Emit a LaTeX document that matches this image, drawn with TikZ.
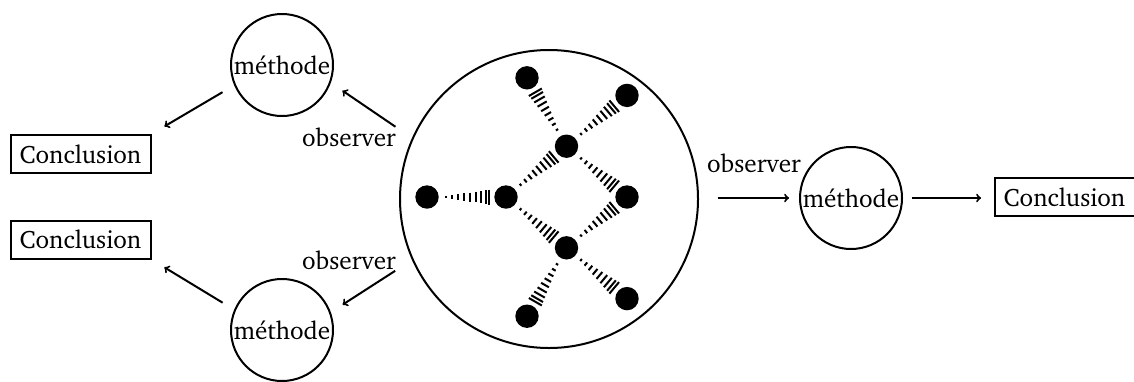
\documentclass[tikz,border=0pt]{standalone}
\usepackage[T1]{fontenc}
\usepackage{charter}
\usetikzlibrary{calc}
\newcommand\hashbond[2]{%
  \foreach \dd/\hh in {19/1.3, 25.3/2.1, 31.3/2.9, 37.3/3.7, 43/4.5, 48.7/5.3, 54/6.1, 58.7/6.8, 62.3/7.5}{%
    \path ($(#1.center)!\dd pt!(#2.center)$) coordinate (hbm);
    \draw[hashline] ($(hbm)!\hh pt!90:(#2.center)$) -- ($(hbm)!\hh pt!-90:(#2.center)$);
  }%
}
\begin{document}
\begin{tikzpicture}[x=1pt,y=-1pt, line width=2pt,
  font=\fontsize{25.2}{30}\selectfont,
  meth/.style={draw, circle, inner sep=0pt, minimum size=102pt},
  concl/.style={draw, rectangle, minimum width=140pt, minimum height=38pt, inner sep=0pt},
  arr/.style={->},
  atom/.style={circle, fill=black, inner sep=0pt, minimum size=23.4pt},
  hashline/.style={line width=2pt}]
\useasboundingbox (0,0) rectangle (1134,381);

% molecule container
\node[draw, circle, minimum size=298pt, inner sep=0pt] (mol) at (549,199) {};

% atoms
\node[atom] (D) at (427,197) {};
\node[atom] (E) at (506,197) {};
\node[atom] (C) at (566.5,146.2) {};
\node[atom] (G) at (566.5,247.8) {};
\node[atom] (A) at (527,77.8) {};
\node[atom] (B) at (627,95.4) {};
\node[atom] (F) at (627,197) {};
\node[atom] (H) at (527,316.2) {};
\node[atom] (I) at (627,298.6) {};

% hashed bonds (narrow end first)
\hashbond{D}{E}
\hashbond{E}{C}
\hashbond{E}{G}
\hashbond{C}{A}
\hashbond{C}{B}
\hashbond{C}{F}
\hashbond{G}{F}
\hashbond{G}{H}
\hashbond{G}{I}

% methods and conclusions
\node[meth] (mt) at (282,65) {m\'ethode};
\node[meth] (mb) at (282,330) {m\'ethode};
\node[meth] (mr) at (851,198) {m\'ethode};
\node[concl] (ct) at (80.5,154) {Conclusion};
\node[concl] (cb) at (80.5,239.5) {Conclusion};
\node[concl] (cr) at (1064.5,197) {Conclusion};

% labels
\node (ot) at (349,137) {observer};
\node (ob) at (349,260) {observer};
\node (or) at (754,163) {observer};

% connectors
\draw[arr, shorten <=20pt, shorten >=14pt] (mol.156) -- (mt.-20);
\draw[arr, shorten <=13.5pt, shorten >=15pt] (mt.203) -- (ct.north east);
\draw[arr, shorten <=20pt, shorten >=14pt] (mol.204) -- (mb.20);
\draw[arr, shorten <=13.5pt, shorten >=15pt] (mb.157) -- (cb.south east);
\draw[arr, shorten <=18.7pt, shorten >=10pt] (mr.west -| mol.east) -- (mr.west);
\draw[arr, shorten <=8.7pt, shorten >=12.5pt] (mr.east) -- (mr.east -| cr.west);
\end{tikzpicture}
\end{document}
